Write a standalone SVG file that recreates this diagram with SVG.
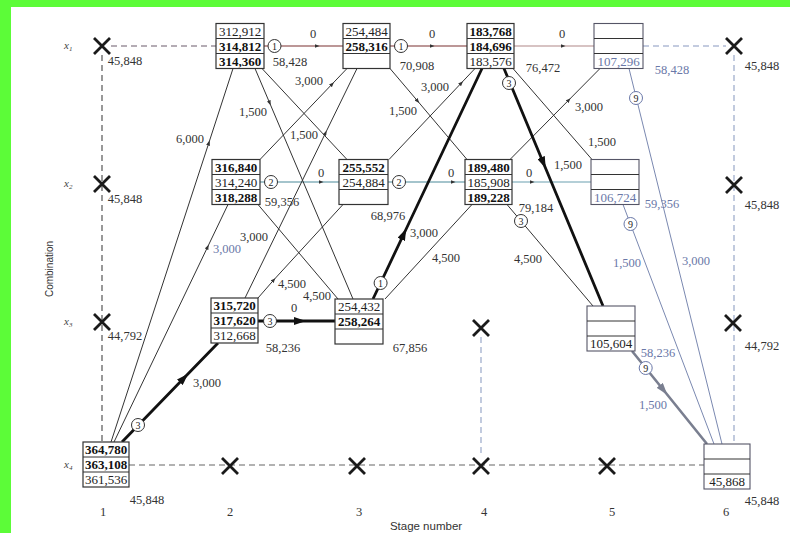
<svg xmlns="http://www.w3.org/2000/svg" width="790" height="533" viewBox="0 0 790 533">
<defs>
<marker id="arr" markerUnits="userSpaceOnUse" markerWidth="12" markerHeight="8" refX="6" refY="4" orient="auto"><path d="M0,0 L12,4 L0,8 z" fill="#111"/></marker>
<marker id="arrg" markerUnits="userSpaceOnUse" markerWidth="12" markerHeight="8" refX="6" refY="4" orient="auto"><path d="M0,0 L12,4 L0,8 z" fill="#7a7f90"/></marker>
<marker id="tk" markerUnits="userSpaceOnUse" markerWidth="5" markerHeight="4" refX="2.5" refY="2" orient="auto"><path d="M0,0 L5,2 L0,4 z" fill="#333"/></marker>
</defs>
<style>
.bx{fill:#fff;stroke:#333;stroke-width:1.2}
.bxl{fill:#fff;stroke:#556;stroke-width:1.1}
.dv{stroke:#333;stroke-width:1}
.n{font-family:"Liberation Serif",serif;font-size:13px;fill:#222;text-anchor:middle}
.b{font-weight:bold;fill:#111}
.lb{font-family:"Liberation Serif",serif;font-size:12.5px;fill:#333;text-anchor:middle}
.bl{fill:#6a78a8}
.th{stroke:#333;stroke-width:1;fill:none}
.thb{stroke:#7a88b0;stroke-width:1;fill:none}
.tk{stroke:#111;stroke-width:2.8;fill:none}
.ci{fill:#fff;stroke:#333;stroke-width:1}
.cib{fill:#fff;stroke:#6a78a8;stroke-width:1}
.ct{font-family:"Liberation Serif",serif;font-size:10px;text-anchor:middle;fill:#222}
.xm{stroke:#1a1a1a;stroke-width:2.8}
.ds{stroke-dasharray:6,4;fill:none;stroke-width:1.2}
.ax{font-family:"Liberation Sans",Arial,sans-serif;fill:#333;text-anchor:middle}
.rl{font-family:"Liberation Serif",serif;font-style:italic;font-size:11px;fill:#444}
</style>
<rect x="0" y="0" width="790" height="533" fill="#5cfc38"/>
<rect x="11" y="7" width="779" height="526" fill="#fff"/>

<g id="connectors">
<line class="ds" x1="111" y1="46" x2="216" y2="46" stroke="#6b5a6a"/>
<line class="ds" x1="643" y1="46" x2="726" y2="46" stroke="#8898c0"/>
<line class="ds" x1="102" y1="55" x2="102" y2="442" stroke="#555"/>
<line class="ds" x1="129" y1="465" x2="704" y2="465" stroke="#666"/>
<line class="ds" x1="481" y1="337" x2="481" y2="457" stroke="#99a8c8"/>
<line class="ds" x1="734" y1="55" x2="734" y2="444" stroke="#99a8c8"/>
<path d="M264,46 L317,46 L343,46" stroke="#7a3030" stroke-width="1.1" fill="none" marker-mid="url(#tk)"/>
<path d="M390,46 L432,46 L467,46" stroke="#7a3030" stroke-width="1.1" fill="none" marker-mid="url(#tk)"/>
<path d="M514,46 L563,46 L594,46" stroke="#b08888" stroke-width="1.1" fill="none" marker-mid="url(#tk)"/>
<path d="M260,182 L321,182 L339,182" stroke="#4a8a9a" stroke-width="1.1" fill="none" marker-mid="url(#tk)"/>
<path d="M388,182 L453,182 L465,182" stroke="#4a8a9a" stroke-width="1.1" fill="none" marker-mid="url(#tk)"/>
<path d="M512,182 L532,182 L591,182" stroke="#6aa0b0" stroke-width="1.1" fill="none" marker-mid="url(#tk)"/>
<path class="th" d="M111,442 L208.8,143 L233,68.5" marker-mid="url(#tk)"/>
<path class="th" d="M114,442 L207.6,247 L228,204.5" marker-mid="url(#tk)"/>
<path class="th" d="M255,68.5 L269.7,103 L353,299" marker-mid="url(#tk)"/>
<path class="th" d="M262,68.5 L347,159.5"/>
<path class="th" d="M260,159.5 L332.2,84 L347,68.5" marker-mid="url(#tk)"/>
<path class="th" d="M245,298 L325.5,133 L357,68.5" marker-mid="url(#tk)"/>
<path class="th" d="M258,204.5 L338,299"/>
<path class="th" d="M258,298 L273.7,280 L343,204.5" marker-mid="url(#tk)"/>
<path class="th" d="M390,68.5 L417.6,101 L467,159.5" marker-mid="url(#tk)"/>
<path class="th" d="M389,159.5 L461.3,83 L475,68.5" marker-mid="url(#tk)"/>
<path class="th" d="M385,299 L472,204.5"/>
<path class="th" d="M513,68.5 L592,159.5"/>
<path class="th" d="M510,159.5 L568.8,100 L600,68.5" marker-mid="url(#tk)"/>
<path class="th" d="M507,204.5 L593,306"/>
<path class="thb" d="M629,68.5 L722,444"/>
<path class="thb" d="M623,204.5 L714,444"/>
<path class="tk" d="M122,442 L184,378 L218,343" marker-mid="url(#arr)"/>
<path class="tk" d="M258,321 L300,321 L335,321" marker-mid="url(#arr)"/>
<path class="tk" d="M373,299 L403.8,234 L482,68.5" marker-mid="url(#arr)"/>
<path class="tk" d="M504,68.5 L543.4,163 L603,306" marker-mid="url(#arr)"/>
<path d="M632,351 L663.5,390 L707,444" stroke="#7a7f90" stroke-width="2.6" fill="none" marker-mid="url(#arrg)"/>
<circle class="ci" cx="274.5" cy="46" r="6.5"/><text class="ct" x="274.5" y="49.5">1</text>
<circle class="ci" cx="401" cy="46" r="6.5"/><text class="ct" x="401" y="49.5">1</text>
<circle class="ci" cx="271" cy="182" r="6.5"/><text class="ct" x="271" y="185.5">2</text>
<circle class="ci" cx="399" cy="182" r="6.5"/><text class="ct" x="399" y="185.5">2</text>
<circle class="ci" cx="270" cy="321" r="6.5"/><text class="ct" x="270" y="324.5">3</text>
<circle class="ci" cx="138" cy="425" r="6.5"/><text class="ct" x="138" y="428.5">3</text>
<circle class="ci" cx="380.6" cy="283" r="6.5"/><text class="ct" x="380.6" y="286.5">1</text>
<circle class="ci" cx="509" cy="83" r="6.5"/><text class="ct" x="509" y="86.5">3</text>
<circle class="ci" cx="521" cy="221" r="6.5"/><text class="ct" x="521" y="224.5">3</text>
<circle class="cib" cx="636" cy="98" r="6.5"/><text class="ct bl" x="636" y="101.5">9</text>
<circle class="cib" cx="630.5" cy="224" r="6.5"/><text class="ct bl" x="630.5" y="227.5">9</text>
<circle class="cib" cx="645.7" cy="368" r="6.5"/><text class="ct bl" x="645.7" y="371.5">9</text>
<text class="lb" x="190" y="143">6,000</text>
<text class="lb bl" x="227" y="253">3,000</text>
<text class="lb" x="253" y="116">1,500</text>
<text class="lb" x="304" y="139">1,500</text>
<text class="lb" x="309" y="85">3,000</text>
<text class="lb" x="254" y="241">3,000</text>
<text class="lb" x="317" y="300">4,500</text>
<text class="lb" x="292" y="288">4,500</text>
<text class="lb" x="403" y="115">1,500</text>
<text class="lb" x="435" y="91">3,000</text>
<text class="lb" x="446" y="262">4,500</text>
<text class="lb" x="602" y="146">1,500</text>
<text class="lb" x="589" y="111">3,000</text>
<text class="lb" x="528" y="263">4,500</text>
<text class="lb bl" x="696" y="265">3,000</text>
<text class="lb bl" x="627" y="267">1,500</text>
<text class="lb" x="207" y="387">3,000</text>
<text class="lb" x="424" y="237">3,000</text>
<text class="lb" x="568" y="169">1,500</text>
<text class="lb bl" x="658" y="357">58,236</text>
<text class="lb bl" x="653" y="409">1,500</text>
<text class="lb" x="313" y="38">0</text>
<text class="lb" x="432" y="38">0</text>
<text class="lb" x="562" y="38">0</text>
<text class="lb" x="321" y="177">0</text>
<text class="lb" x="451" y="177">0</text>
<text class="lb" x="529" y="177">0</text>
<text class="lb" x="294" y="312">0</text>
</g>

<g id="n1_4"><rect class="bx" x="83" y="442" width="46" height="45"/><line class="dv" x1="83" y1="457" x2="129" y2="457"/><line class="dv" x1="83" y1="472" x2="129" y2="472"/>
<text class="n b" x="106" y="454">364,780</text><text class="n b" x="106" y="469">363,108</text><text class="n" x="106" y="484">361,536</text></g>
<g id="n2_1"><rect class="bx" x="216" y="23.5" width="48" height="45"/><line class="dv" x1="216" y1="38.5" x2="264" y2="38.5"/><line class="dv" x1="216" y1="53.5" x2="264" y2="53.5"/>
<text class="n" x="240" y="35.5">312,912</text><text class="n b" x="240" y="50.5">314,812</text><text class="n b" x="240" y="65.5">314,360</text></g>
<g id="n2_2"><rect class="bx" x="212" y="159.5" width="48" height="45"/><line class="dv" x1="212" y1="174.5" x2="260" y2="174.5"/><line class="dv" x1="212" y1="189.5" x2="260" y2="189.5"/>
<text class="n b" x="236" y="171.5">316,840</text><text class="n" x="236" y="186.5">314,240</text><text class="n b" x="236" y="201.5">318,288</text></g>
<g id="n2_3"><rect class="bx" x="211" y="298" width="47" height="45"/><line class="dv" x1="211" y1="313" x2="258" y2="313"/><line class="dv" x1="211" y1="328" x2="258" y2="328"/>
<text class="n b" x="234.5" y="310">315,720</text><text class="n b" x="234.5" y="325">317,620</text><text class="n" x="234.5" y="340">312,668</text></g>
<g id="n3_1"><rect class="bx" x="343" y="23.5" width="47" height="45"/><line class="dv" x1="343" y1="38.5" x2="390" y2="38.5"/><line class="dv" x1="343" y1="53.5" x2="390" y2="53.5"/>
<text class="n" x="366.5" y="35.5">254,484</text><text class="n b" x="366.5" y="50.5">258,316</text></g>
<g id="n3_2"><rect class="bx" x="339" y="159.5" width="49" height="45"/><line class="dv" x1="339" y1="174.5" x2="388" y2="174.5"/><line class="dv" x1="339" y1="189.5" x2="388" y2="189.5"/>
<text class="n b" x="363.5" y="171.5">255,552</text><text class="n" x="363.5" y="186.5">254,884</text></g>
<g id="n3_3"><rect class="bx" x="335" y="299" width="48" height="45"/><line class="dv" x1="335" y1="314" x2="383" y2="314"/><line class="dv" x1="335" y1="329" x2="383" y2="329"/>
<text class="n" x="359" y="311">254,432</text><text class="n b" x="359" y="326">258,264</text></g>
<g id="n4_1"><rect class="bx" x="467" y="23.5" width="47" height="45"/><line class="dv" x1="467" y1="38.5" x2="514" y2="38.5"/><line class="dv" x1="467" y1="53.5" x2="514" y2="53.5"/>
<text class="n b" x="490.5" y="35.5">183,768</text><text class="n b" x="490.5" y="50.5">184,696</text><text class="n" x="490.5" y="65.5">183,576</text></g>
<g id="n4_2"><rect class="bx" x="465" y="159.5" width="47" height="45"/><line class="dv" x1="465" y1="174.5" x2="512" y2="174.5"/><line class="dv" x1="465" y1="189.5" x2="512" y2="189.5"/>
<text class="n b" x="488.5" y="171.5">189,480</text><text class="n" x="488.5" y="186.5">185,908</text><text class="n b" x="488.5" y="201.5">189,228</text></g>
<g id="n5_1"><rect class="bxl" x="594" y="23.5" width="49" height="45"/><line class="dv" x1="594" y1="38.5" x2="643" y2="38.5"/><line class="dv" x1="594" y1="53.5" x2="643" y2="53.5"/>
<text class="n bl" x="618.5" y="65.5">107,296</text></g>
<g id="n5_2"><rect class="bxl" x="591" y="159.5" width="48" height="45"/><line class="dv" x1="591" y1="174.5" x2="639" y2="174.5"/><line class="dv" x1="591" y1="189.5" x2="639" y2="189.5"/>
<text class="n bl" x="615" y="201.5">106,724</text></g>
<g id="n5_3"><rect class="bxl" x="587" y="306" width="48" height="45"/><line class="dv" x1="587" y1="321" x2="635" y2="321"/><line class="dv" x1="587" y1="336" x2="635" y2="336"/>
<text class="n" x="611" y="348">105,604</text></g>
<g id="n6_4"><rect class="bxl" x="704" y="444" width="46" height="45"/><line class="dv" x1="704" y1="459" x2="750" y2="459"/><line class="dv" x1="704" y1="474" x2="750" y2="474"/>
<text class="n" x="727" y="486">45,868</text></g>

<g id="xmarks">
<path class="xm" d="M94,38 L110,54 M110,38 L94,54"/>
<path class="xm" d="M94,176 L110,192 M110,176 L94,192"/>
<path class="xm" d="M94,314 L110,330 M110,314 L94,330"/>
<path class="xm" d="M222,458 L238,474 M238,458 L222,474"/>
<path class="xm" d="M349,458 L365,474 M365,458 L349,474"/>
<path class="xm" d="M473,320 L489,336 M489,320 L473,336"/>
<path class="xm" d="M473,458 L489,474 M489,458 L473,474"/>
<path class="xm" d="M599,458 L615,474 M615,458 L599,474"/>
<path class="xm" d="M726,38 L742,54 M742,38 L726,54"/>
<path class="xm" d="M726,177 L742,193 M742,177 L726,193"/>
<path class="xm" d="M725,315 L741,331 M741,315 L725,331"/>
</g>

<g id="values">
<text class="lb" x="290" y="66">58,428</text>
<text class="lb" x="417" y="70">70,908</text>
<text class="lb" x="543" y="72">76,472</text>
<text class="lb" x="282" y="206">59,356</text>
<text class="lb" x="388" y="220">68,976</text>
<text class="lb" x="536" y="212">79,184</text>
<text class="lb" x="283" y="352">58,236</text>
<text class="lb" x="410" y="352">67,856</text>
<text class="lb bl" x="672" y="74">58,428</text>
<text class="lb bl" x="662" y="208">59,356</text>
<text class="lb" x="125" y="65">45,848</text>
<text class="lb" x="125" y="203">45,848</text>
<text class="lb" x="125" y="340">44,792</text>
<text class="lb" x="147" y="504">45,848</text>
<text class="lb" x="762" y="70">45,848</text>
<text class="lb" x="762" y="209">45,848</text>
<text class="lb" x="762" y="350">44,792</text>
<text class="lb" x="762" y="505">45,848</text>
</g>

<g id="axes">
<text class="rl" x="64" y="49">x<tspan font-size="7" dy="2">1</tspan></text>
<text class="rl" x="64" y="187">x<tspan font-size="7" dy="2">2</tspan></text>
<text class="rl" x="64" y="325">x<tspan font-size="7" dy="2">3</tspan></text>
<text class="rl" x="64" y="468">x<tspan font-size="7" dy="2">4</tspan></text>
<text class="lb" x="103" y="516">1</text>
<text class="lb" x="230" y="516">2</text>
<text class="lb" x="359" y="516">3</text>
<text class="lb" x="484" y="516">4</text>
<text class="lb" x="612" y="516">5</text>
<text class="lb" x="726" y="516">6</text>
<text class="ax" x="426" y="530" font-size="11.5">Stage number</text>
<text class="ax" font-size="10" transform="translate(52.5,269) rotate(-90)">Combination</text>
</g>
</svg>
